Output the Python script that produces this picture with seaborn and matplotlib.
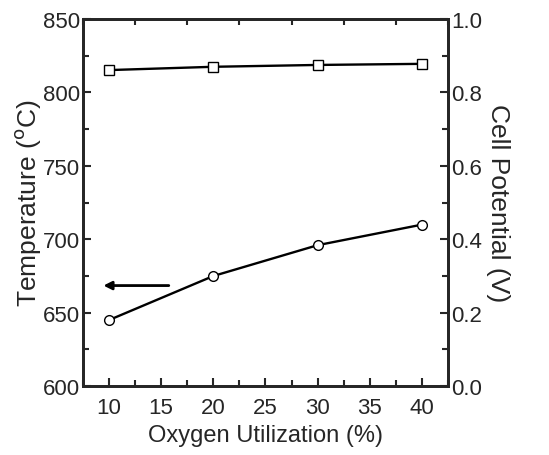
import matplotlib
matplotlib.use("Agg")
import matplotlib.pyplot as plt
import numpy as np
import pandas as pd
import seaborn as sns
from matplotlib.ticker import MultipleLocator

# oxygen utilization vs temperature / cell potential
utilization = [10, 20, 30, 40]
temperature = [645, 675, 696, 710]
cell_potential = [0.861, 0.870, 0.875, 0.878]

sns.set_style("ticks")
plt.rcParams['font.family'] = ['Liberation Sans', 'DejaVu Sans']
plt.rcParams['xtick.direction'] = 'in'
plt.rcParams['ytick.direction'] = 'in'

df = pd.DataFrame({"util": utilization, "temp": temperature, "volt": cell_potential})

fig = plt.figure(figsize=(5.49, 4.56), dpi=100)
ax = fig.add_axes([0.151, 0.151, 0.665, 0.805])
ax2 = ax.twinx()

sns.lineplot(x="util", y="temp", data=df, ax=ax, color="black", lw=1.7,
             marker="o", markersize=7, markerfacecolor="white",
             markeredgecolor="black", markeredgewidth=1.0)
sns.lineplot(x="util", y="volt", data=df, ax=ax2, color="black", lw=1.7,
             marker="s", markersize=6.5, markerfacecolor="white",
             markeredgecolor="black", markeredgewidth=1.0)

ax.set_xlim(7.5, 42.5)
ax.set_ylim(600, 850)
ax2.set_ylim(0, 1.0)

ax.xaxis.set_major_locator(MultipleLocator(5))
ax.xaxis.set_minor_locator(MultipleLocator(2.5))
ax.yaxis.set_major_locator(MultipleLocator(50))
ax.yaxis.set_minor_locator(MultipleLocator(25))
ax2.yaxis.set_major_locator(MultipleLocator(0.2))
ax2.yaxis.set_minor_locator(MultipleLocator(0.1))
ax2.yaxis.set_major_formatter(matplotlib.ticker.FormatStrFormatter('%.1f'))

ax.tick_params(axis='x', which='major', top=False, length=6, width=1.5, labelsize=16, pad=8)
ax.tick_params(axis='x', which='minor', top=True, length=4, width=1.5)
ax.tick_params(axis='y', which='major', length=6, width=1.5, labelsize=16, pad=2)
ax.tick_params(axis='y', which='minor', length=4, width=1.5)
ax2.tick_params(axis='y', which='major', length=6, width=1.5, labelsize=16, pad=2)
ax2.tick_params(axis='y', which='minor', length=4, width=1.5)

for a in (ax, ax2):
    for s in a.spines.values():
        s.set_linewidth(2)
        s.set_visible(True)

ax.set_xlabel("Oxygen Utilization (%)", fontsize=17, labelpad=4)
ax.set_ylabel("Temperature ($^{\\rm o}$C)", fontsize=19, labelpad=0)
ax2.set_ylabel("Cell Potential (V)", fontsize=19, rotation=270, labelpad=20)

ax.annotate("", xy=(9.2, 668.5), xytext=(16, 668.5),
            arrowprops=dict(arrowstyle="-|>", color="black", lw=2,
                            mutation_scale=12))

fig.savefig("out.png", dpi=100)
